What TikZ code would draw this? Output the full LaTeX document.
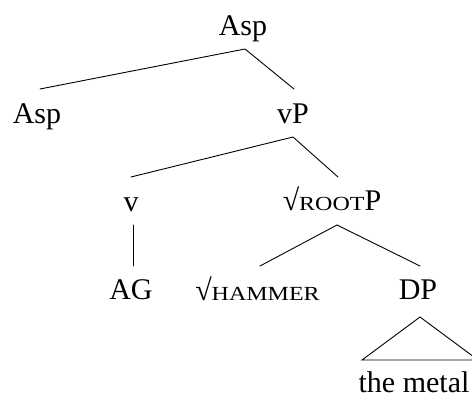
\documentclass[tikz,border=0pt]{standalone}
\usepackage{fontspec}
\usepackage{graphicx}
\setmainfont{Liberation Serif}
\usetikzlibrary{calc}
% fake small capitals: smaller upper case, widened
\newcommand{\fakesc}[1]{\scalebox{1.2}[1]{\fontsize{20}{24}\selectfont #1}}
\begin{document}
\begin{tikzpicture}[x=1pt,y=1pt,
  lab/.style={anchor=base,inner sep=0pt,font=\fontsize{30}{36}\selectfont},
  branch/.style={line width=0.9pt,line cap=round}]
\useasboundingbox (0,0) rectangle (472,-401);

% labels, placed by their baselines
\node[lab] (asp0)   at (243,-36)  {Asp};
\node[lab] (asp1)   at (37,-124)  {Asp};
\node[lab] (vp)     at (293,-124) {vP};
\node[lab] (v)      at (131,-212) {v};
\node[lab] (rootp)  at (332,-211) {√\fakesc{ROOT}P};
\node[lab] (ag)     at (131,-300) {AG};
\node[lab] (hammer) at (257.5,-301) {√\fakesc{HAMMER}};
\node[lab] (dp)     at (418,-300) {DP};
\node[lab] (metal)  at (414,-392) {the metal};

% branches
\draw[branch] ($(asp1.base)+(3,35)$) -- ($(asp0.base)+(2,-13)$) -- ($(vp.base)+(1,35)$);
\draw[branch] ($(v.base)+(0,35)$) -- ($(vp.base)+(0,-13)$) -- ($(rootp.base)+(6,34)$);
\draw[branch] ($(v.base)+(2,-13)$) -- ($(ag.base)+(2,34)$);
\draw[branch] ($(hammer.base)+(2.5,35)$) -- ($(rootp.base)+(5,-14)$) -- ($(dp.base)+(2,34)$);

% triangle over the unanalysed DP
\draw[branch,line join=miter] ($(dp.base)+(2,-17)$) -- ($(dp.base)+(-56,-60)$)
  -- ($(dp.base)+(60,-60)$) -- cycle;
\end{tikzpicture}
\end{document}
